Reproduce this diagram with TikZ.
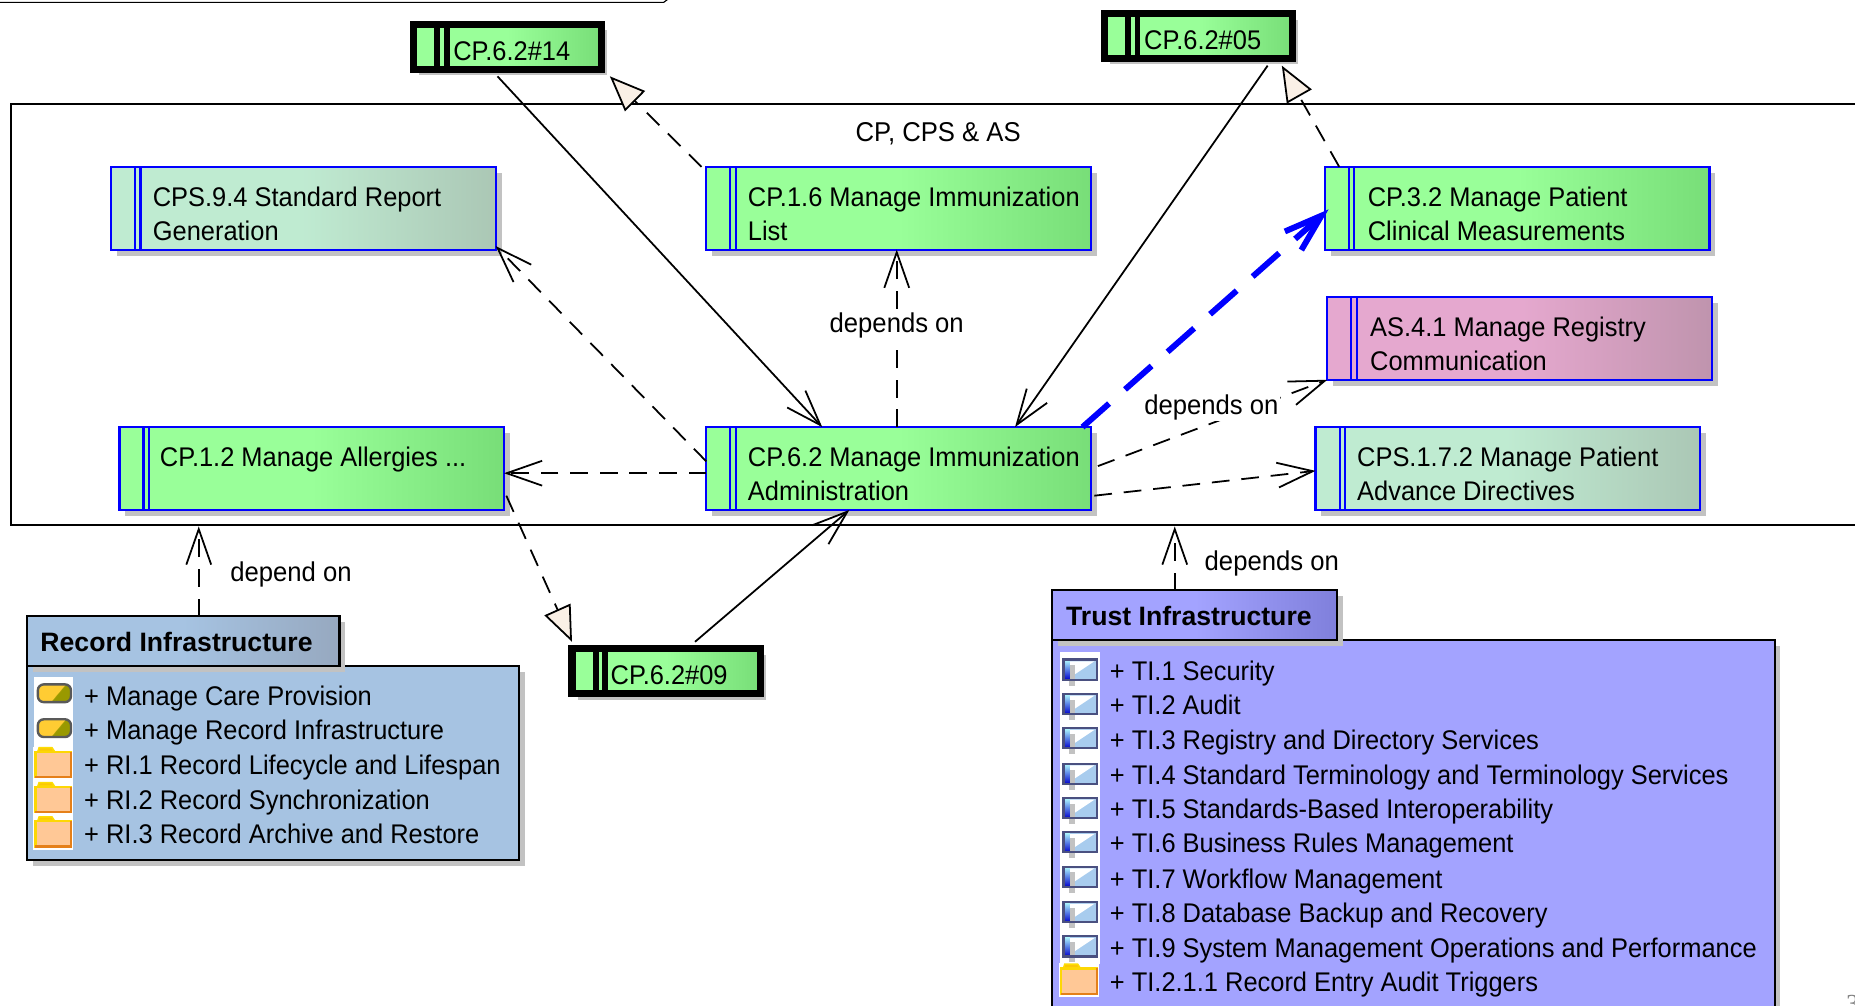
\documentclass[tikz,border=0pt]{standalone}
\usepackage{fontspec}
\setmainfont{Liberation Sans}[FakeStretch=0.943,BoldFeatures={FakeStretch=1}]
\usepackage{tikz}
\usetikzlibrary{arrows.meta,shadows}
\definecolor{cream}{HTML}{FAF0E6}
\definecolor{recordblue}{HTML}{A6C3E2}
\definecolor{trustblue}{HTML}{A3A3FF}
\definecolor{shadowgray}{HTML}{C2C2C2}
\definecolor{peach}{HTML}{FFC896}
\definecolor{winblue}{HTML}{A8CCEE}
\definecolor{winedge}{HTML}{4A5080}
\pgfdeclarehorizontalshading{greenfade}{100bp}{rgb(0bp)=(0.6,1,0.6);rgb(50bp)=(0.6,1,0.6);rgb(75bp)=(0.47,0.87,0.47);rgb(100bp)=(0.47,0.87,0.47)}
\pgfdeclarehorizontalshading{paleFade}{100bp}{rgb(0bp)=(0.75,0.92,0.82);rgb(50bp)=(0.75,0.92,0.82);rgb(75bp)=(0.67,0.78,0.71);rgb(100bp)=(0.67,0.78,0.71)}
\pgfdeclarehorizontalshading{pinkfade}{100bp}{rgb(0bp)=(0.9,0.66,0.81);rgb(50bp)=(0.9,0.66,0.81);rgb(75bp)=(0.75,0.58,0.68);rgb(100bp)=(0.75,0.58,0.68)}
\pgfdeclarehorizontalshading{recordfade}{100bp}{rgb(0bp)=(0.65,0.765,0.886);rgb(50bp)=(0.65,0.765,0.886);rgb(75bp)=(0.59,0.66,0.75);rgb(100bp)=(0.59,0.66,0.75)}
\pgfdeclarehorizontalshading{trustfade}{100bp}{rgb(0bp)=(0.64,0.64,1);rgb(50bp)=(0.64,0.64,1);rgb(75bp)=(0.5,0.5,0.86);rgb(100bp)=(0.5,0.5,0.86)}
\pgfdeclarehorizontalshading{pillfade}{100bp}{rgb(0bp)=(1,0.8,0.2);rgb(54bp)=(1,0.8,0.2);rgb(56bp)=(0.6,0.6,0);rgb(100bp)=(0.6,0.6,0)}
\tikzset{
  x=1pt, y=-1pt,
  shade/.style={drop shadow={shadow xshift=5pt,shadow yshift=-5pt,fill=shadowgray,opacity=1}},
  funcbox/.style={draw=blue,line width=1.8pt,minimum width=325pt,minimum height=70pt,anchor=north west,inner sep=0pt,outer sep=0pt,shade,shading angle=0},
  greenbox/.style={funcbox,shading=greenfade},
  palebox/.style={funcbox,shading=paleFade},
  pinkbox/.style={funcbox,shading=pinkfade},
  critbox/.style={draw=black,line width=6pt,minimum width=159pt,minimum height=38pt,anchor=north west,inner sep=0pt,outer sep=0pt,shade,shading=greenfade,shading angle=0},
  pkgbox/.style={draw,line width=1.8pt,anchor=north west,inner sep=0pt,outer sep=0pt,shade},
  boxtext/.style={anchor=west,align=left,font=\fontsize{22.8}{29}\selectfont,inner sep=0pt},
  itemtext/.style={anchor=base west,font=\fontsize{22.8}{29}\selectfont,inner sep=0pt},
  labeltext/.style={font=\fontsize{23}{26}\selectfont,inner sep=1pt,fill=white},
  tabtext/.style={anchor=west,font=\bfseries\fontsize{22.5}{29}\selectfont,inner sep=0pt},
  dep/.style={line width=1.5pt,dash pattern=on 15pt off 10pt,-{Straight Barb[length=30pt,width=21pt,line width=1.5pt]}},
  link/.style={line width=1.5pt,-{Straight Barb[length=30pt,width=21pt,line width=1.5pt]}},
  real/.style={line width=1.5pt,dash pattern=on 15pt off 10pt,-{Triangle[length=30pt,width=24pt,fill=cream,line width=1.5pt]}},
}
\newcommand{\funcbars}[1]{
  \draw[blue,line width=1.8pt] ([xshift=20.3pt]#1.north west) -- ([xshift=20.3pt]#1.south west);
  \draw[blue,line width=1.8pt] ([xshift=24.8pt]#1.north west) -- ([xshift=24.8pt]#1.south west);
}
\newcommand{\critbars}[1]{
  \draw[line width=5pt] ([xshift=20pt,yshift=2pt]#1.north west) -- ([xshift=20pt,yshift=-2pt]#1.south west);
  \draw[line width=5pt] ([xshift=28pt,yshift=2pt]#1.north west) -- ([xshift=28pt,yshift=-2pt]#1.south west);
}
% icons, centred at the row
\newcommand{\pillicon}[1]{
  \draw[draw=black!65,line width=2pt,rounded corners=5pt,shading=pillfade,shading angle=-40] (32,#1-7.5) rectangle (60,#1+7.5);
}
\newcommand{\foldericon}[2]{
  \fill[white] (#1-2,#2-15) rectangle (#1+32,#2+14);
  \draw[draw=yellow!80!orange,line width=1.2pt,fill=yellow!60!orange] (#1+2,#2-11) -- (#1+3,#2-14) -- (#1+14,#2-14) -- (#1+16,#2-11) -- cycle;
  \draw[draw=yellow!75!orange,line width=2pt,fill=peach] (#1,#2-10.5) rectangle (#1+30,#2+11);
  \draw[draw=orange!60!brown,line width=2pt] (#1+30,#2-10.5) -- (#1+30,#2+11) -- (#1,#2+11);
}
\newcommand{\windowicon}[1]{
  \fill[white] (896,#1-15) rectangle (930,#1+15);
  \fill[winblue] (899,#1-8.5) rectangle (927,#1+8.5);
  \fill[white] (904,#1+7) -- (925,#1-7) -- (904,#1-7) -- cycle;
  \shade[top color=cyan!30,bottom color=blue!80!black] (899,#1-8.5) rectangle (904,#1+8.5);
  \draw[draw=winedge,line width=1.8pt] (899,#1-8.5) rectangle (927,#1+8.5);
}

\begin{document}
\begin{tikzpicture}
  \useasboundingbox (0,0) rectangle (1568,850);
  \clip (0,0) rectangle (1568,850);

  \draw[line width=1pt] (0,2) -- (561,2) -- (565,-1);

  % frame
  \draw[line width=1.8pt] (1600,88) -- (9,88) -- (9,444) -- (1600,444);
  \node[labeltext,fill=none] (frametitle) at (793,113) {CP, CPS \& AS};

  % functions
  \node[palebox] (cps94) at (94,141) {};
  \node[greenbox] (cp16) at (597,141) {};
  \node[greenbox] (cp32) at (1120,141) {};
  \node[pinkbox] (as41) at (1122,251) {};
  \node[greenbox] (cp12) at (101,361) {};
  \node[greenbox] (cp62) at (597,361) {};
  \node[palebox] (cps172) at (1112,361) {};
  \foreach \n in {cps94,cp16,cp32,as41,cp12,cp62,cps172} {\funcbars{\n}}

  \node[boxtext] (cps94txt) at (129,180.5) {CPS.9.4 Standard Report\\Generation};
  \node[boxtext] (cp16txt) at (632,180.5) {CP.1.6 Manage Immunization\\List};
  \node[boxtext] (cp32txt) at (1156,180.5) {CP.3.2 Manage Patient\\Clinical Measurements};
  \node[boxtext] (as41txt) at (1158,290.5) {AS.4.1 Manage Registry\\Communication};
  \node[itemtext] (cp12txt) at (135,394) {CP.1.2 Manage Allergies ...};
  \node[boxtext] (cp62txt) at (632,400.5) {CP.6.2 Manage Immunization\\Administration};
  \node[boxtext] (cps172txt) at (1147,400.5) {CPS.1.7.2 Manage Patient\\Advance Directives};

  % criteria
  \node[critbox] (c14) at (349.5,20.5) {};
  \node[critbox] (c05) at (933.5,11.5) {};
  \node[critbox] (c09) at (483.5,548.5) {};
  \foreach \n in {c14,c05,c09} {\critbars{\n}}
  \node[itemtext] (c14txt) at (383,51) {CP.6.2\#14};
  \node[itemtext] (c05txt) at (967,42) {CP.6.2\#05};
  \node[itemtext] (c09txt) at (516,579) {CP.6.2\#09};

  % packages
  \node[pkgbox,fill=recordblue,minimum width=416pt,minimum height=164pt] (recbody) at (23,563) {};
  \node[pkgbox,shading=recordfade,shading angle=0,minimum width=264pt,minimum height=42pt] (rectab) at (23,521) {};
  \node[tabtext] (rectxt) at (34,543) {Record Infrastructure};
  \node[pkgbox,fill=trustblue,minimum width=611pt,minimum height=330pt] (trbody) at (889,541) {};
  \node[pkgbox,shading=trustfade,shading angle=0,minimum width=241pt,minimum height=42pt] (trtab) at (889,499) {};
  \node[tabtext] (trtxt) at (901,521) {Trust Infrastructure};

  \fill[white] (29,572) rectangle (62,718);
  \pillicon{586}
  \pillicon{615.5}
  \foreach \y in {646,675.5,704.5} {\foldericon{30}{\y}}
  \foreach \i/\y/\t in {1/588/Manage Care Provision,2/617/Manage Record Infrastructure,3/647/RI.1 Record Lifecycle and Lifespan,4/676/RI.2 Record Synchronization,5/705/RI.3 Record Archive and Restore}
    {\node[itemtext] (rec\i) at (71,\y+8) {+ \t};}

  \foreach \y in {566,595,624,654,683,712,741,771,800} {\windowicon{\y}}
  \foldericon{897}{829}
  \foreach \i/\y/\t in {1/567/TI.1 Security,2/596/TI.2 Audit,3/625.5/TI.3 Registry and Directory Services,4/655/TI.4 Standard Terminology and Terminology Services,5/684/TI.5 Standards-Based Interoperability,6/713/TI.6 Business Rules Management,7/743/TI.7 Workflow Management,8/772/TI.8 Database Backup and Recovery,9/801/TI.9 System Management Operations and Performance,10/830/TI.2.1.1 Record Entry Audit Triggers}
    {\node[itemtext] (ti\i) at (938,\y+8) {+ \t};}
  \node[text=gray,font=\fontspec{Liberation Serif}\fontsize{22}{26}\selectfont,inner sep=0pt] (pagenum) at (1566,849) {3};

  % connectors
  \draw[link] ([xshift=71pt,yshift=-6pt]c14.south west) -- ([xshift=98pt]cp62.north west);
  \draw[link] ([xshift=138pt,yshift=-6pt]c05.south west) -- ([xshift=261pt]cp62.north west);
  \draw[link] ([xshift=104pt,yshift=6pt]c09.north west) -- ([xshift=121pt]cp62.south west);
  \draw[real] ([xshift=-4pt]cp16.north west) -- ([xshift=7pt,yshift=-6pt]c14.south east);
  \draw[real] ([xshift=12pt]cp32.north west) -- ([xshift=-9pt,yshift=-6pt]c05.south east);
  \draw[real] ([xshift=2pt,yshift=12pt]cp12.south east) -- ([yshift=6pt]c09.north west);
  \draw[dep] ([xshift=161pt]cp62.north west) -- ([xshift=161pt]cp16.south west);
  \draw[dep] ([yshift=-29pt]cp62.north west) -- ([yshift=3pt]cps94.south east);
  \draw[dep] ([yshift=31pt]cp62.south west) -- ([yshift=31pt]cp12.south east);
  \draw[dep] ([xshift=6pt,yshift=37pt]cp62.south east) -- (as41.south west);
  \draw[dep] ([xshift=3pt,yshift=12pt]cp62.south east) -- ([yshift=33pt]cps172.south west);
  \draw[blue,line width=5pt,dash pattern=on 30pt off 18pt,-{Straight Barb[length=32pt,width=21pt,line width=5pt]}] ([xshift=-7pt]cp62.north east) -- ([xshift=3pt,yshift=-36pt]cp32.north west);
  \draw[dep] ([xshift=145pt]rectab.north west) -- (168,445);
  \draw[dep] ([xshift=104pt]trtab.north west) -- (993,445);

  % labels on the connectors
  \node[labeltext] (l1) at (758,275) {depends on};
  \node[labeltext] (l2) at (1024,344) {depends on};
  \node[labeltext,fill=none] (l3) at (246,486) {depend on};
  \node[labeltext,fill=none] (l4) at (1075,476) {depends on};
\end{tikzpicture}
\end{document}
